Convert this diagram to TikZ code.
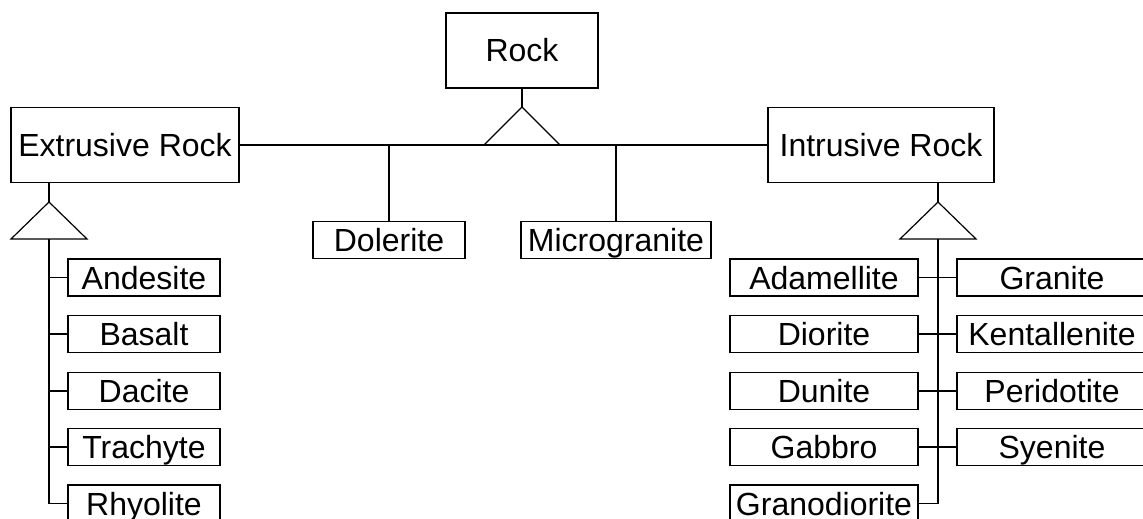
\documentclass[tikz,border=0pt]{standalone}
\usepackage{fontspec}
\setmainfont{Liberation Sans}
\begin{document}
\begin{tikzpicture}[x=1pt,y=-1pt,line width=1.2pt,
  box/.style={draw,rectangle,inner sep=0pt,outer sep=0pt,align=center,
    font=\fontsize{32}{36}\selectfont,text height=23pt,text depth=0pt},
  big/.style={box,minimum height=75pt},
  small/.style={box,minimum height=37pt},
  tri/.style={draw,line join=miter}]
\useasboundingbox (0,0) rectangle (1143,519);
% top level
\node[big,minimum width=152pt] (rock) at (522,50.5) {Rock};
\node[big,minimum width=228pt] (ext) at (125,145) {Extrusive Rock};
\node[big,minimum width=226pt] (int) at (881,145) {Intrusive Rock};
\node[small,minimum width=152pt] (dol) at (389,240) {Dolerite};
\node[small,minimum width=190pt] (mic) at (616,240) {Microgranite};
% extrusive children
\node[small,minimum width=152pt] (and) at (144,277.5) {Andesite};
\node[small,minimum width=152pt] (bas) at (144,334) {Basalt};
\node[small,minimum width=152pt] (dac) at (144,391) {Dacite};
\node[small,minimum width=152pt] (tra) at (144,447) {Trachyte};
\node[small,minimum width=152pt] (rhy) at (144,503.5) {Rhyolite};
% intrusive children
\node[small,minimum width=188pt] (ada) at (824,277.5) {Adamellite};
\node[small,minimum width=188pt] (dio) at (824,334) {Diorite};
\node[small,minimum width=188pt] (dun) at (824,391) {Dunite};
\node[small,minimum width=188pt] (gab) at (824,447) {Gabbro};
\node[small,minimum width=188pt] (gra) at (824,503.5) {Granodiorite};
\node[small,minimum width=190pt] (grn) at (1052,277.5) {Granite};
\node[small,minimum width=190pt] (ken) at (1052,334) {Kentallenite};
\node[small,minimum width=190pt] (per) at (1052,391) {Peridotite};
\node[small,minimum width=190pt] (sye) at (1052,447) {Syenite};
% triangles
\coordinate (ta) at (522,107);
\coordinate (ea) at (49,202);
\coordinate (ia) at (938,202);
\draw (rock.south) -- (ta);
\draw[tri] (ta) -- (484,145) -- (560,145) -- cycle;
\draw (ext.south -| ea) -- (ea);
\draw[tri] (ea) -- (11,239) -- (87,239) -- cycle;
\draw (int.south -| ia) -- (ia);
\draw[tri] (ia) -- (900,239) -- (976,239) -- cycle;
% main horizontal
\draw (ext.east) -- (int.west);
\draw (dol.north) -- (dol.north |- ext.east);
\draw (mic.north) -- (mic.north |- ext.east);
% extrusive tree
\coordinate (eb) at (49,239);
\draw (eb) -- (eb |- rhy.west) -- (rhy.west);
\foreach \n in {and,bas,dac,tra} \draw (\n.west -| eb) -- (\n.west);
% intrusive tree
\coordinate (ib) at (938,239);
\draw (ib) -- (ib |- gra.east) -- (gra.east);
\draw (ada.east) -- (grn.west);
\draw (dio.east) -- (ken.west);
\draw (dun.east) -- (per.west);
\draw (gab.east) -- (sye.west);
\end{tikzpicture}
\end{document}
